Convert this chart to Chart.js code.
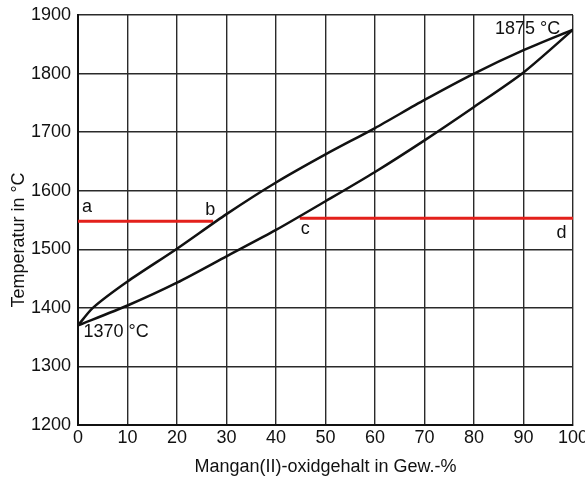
<!DOCTYPE html>
<html>
<head>
<meta charset="utf-8">
<script src="https://cdn.jsdelivr.net/npm/chart.js@4/dist/chart.umd.min.js"></script>
<style>
  html, body { margin: 0; padding: 0; background: #fff; }
  #wrap { width: 585px; height: 479px; }
</style>
</head>
<body>
<div id="wrap"><canvas id="phaseChart" width="585" height="479"></canvas></div>
<script>
// values (MnO content in wt.-%, temperature in °C)
const liqGehalt = [0, 3, 10, 20, 30, 40, 50, 60, 70, 80, 90, 100];
const liqTemp   = [1370, 1400, 1445, 1501, 1560, 1614, 1662, 1707, 1755, 1800, 1840, 1875];

const solGehalt = [0, 10, 20, 30, 40, 50, 60, 70, 80, 90, 100];
const solTemp   = [1370, 1404, 1443, 1488, 1533, 1582, 1632, 1686, 1743, 1802, 1875];

// red isotherm, broken between b and c
const redGehalt = [0, 27.3, null, 44.8, 100];
const redTemp   = [1548, 1548, null, 1553, 1553];

const xTicks = [0, 10, 20, 30, 40, 50, 60, 70, 80, 90, 100];
const yTicks = [1200, 1300, 1400, 1500, 1600, 1700, 1800, 1900];

const toPoints = (xs, ys) => xs.map((x, i) => (x === null ? { x: NaN, y: NaN } : { x: x, y: ys[i] }));

const fontFam = "'Liberation Sans', Arial, sans-serif";
const fontSize = 18;

// labels in the plot (data coordinates)
const notes = [
    { text: "a", x: 1.8, y: 1563, align: "center" },
    { text: "b", x: 26.7, y: 1559, align: "center" },
    { text: "c", x: 45.9, y: 1526, align: "center" },
    { text: "d", x: 97.7, y: 1520, align: "center" },
    { text: "1875 °C", x: 97.4, y: 1868, align: "right" },
    { text: "1370 °C", x: 1.1, y: 1351, align: "left" }
];

const notePlugin = {
    id: "notes",
    afterDatasetsDraw(chart) {
        const ctx = chart.ctx;
        const xs = chart.scales.x;
        const ys = chart.scales.y;
        ctx.save();
        ctx.fillStyle = "#111";
        ctx.font = fontSize + "px " + fontFam;
        ctx.textBaseline = "alphabetic";
        notes.forEach(n => {
            ctx.textAlign = n.align;
            ctx.fillText(n.text, xs.getPixelForValue(n.x), ys.getPixelForValue(n.y));
        });
        // y axis title, sits a bit below the middle of the axis
        ctx.translate(19, 240);
        ctx.rotate(-Math.PI / 2);
        ctx.textAlign = "center";
        ctx.textBaseline = "middle";
        ctx.fillText("Temperatur in °C", 0, 0);
        ctx.restore();
    }
};

const ctx = document.getElementById("phaseChart").getContext("2d");

const chart = new Chart(ctx, {
    type: "scatter",
    data: {
        datasets: [
            {
                label: "Liquidus",
                data: toPoints(liqGehalt, liqTemp),
                showLine: true,
                borderColor: "#111",
                borderWidth: 2.5,
                pointRadius: 0,
                tension: 0.25
            },
            {
                label: "Solidus",
                data: toPoints(solGehalt, solTemp),
                showLine: true,
                borderColor: "#111",
                borderWidth: 2.5,
                pointRadius: 0,
                tension: 0.25
            },
            {
                label: "Isotherme",
                data: toPoints(redGehalt, redTemp),
                showLine: true,
                spanGaps: false,
                borderColor: "#e3201b",
                borderWidth: 3,
                pointRadius: 0
            }
        ]
    },
    options: {
        responsive: false,
        animation: false,
        layout: { padding: { top: 15, right: 12, left: 0, bottom: 0 } },
        plugins: {
            legend: { display: false },
            tooltip: { enabled: false }
        },
        scales: {
            x: {
                type: "linear",
                min: 0,
                max: 100,
                afterBuildTicks: (scale) => { scale.ticks = xTicks.map(v => ({ value: v })); },
                afterFit: (scale) => { scale.height = 54; scale.paddingLeft = 0; scale.paddingRight = 0; },
                grid: { color: "#2a2a2a", lineWidth: 1.4, drawTicks: false },
                border: { color: "#111", width: 2 },
                ticks: { color: "#111", padding: 2, font: { family: fontFam, size: fontSize }, callback: (v) => String(v) },
                title: {
                    display: true,
                    text: "Mangan(II)-oxidgehalt in Gew.-%",
                    color: "#111",
                    padding: { top: 0, bottom: 1 },
                    font: { family: fontFam, size: fontSize }
                }
            },
            y: {
                type: "linear",
                min: 1200,
                max: 1900,
                afterBuildTicks: (scale) => { scale.ticks = yTicks.map(v => ({ value: v })); },
                afterFit: (scale) => { scale.width = 78; scale.paddingTop = 0; scale.paddingBottom = 0; },
                grid: { color: "#2a2a2a", lineWidth: 1.4, drawTicks: false },
                border: { color: "#111", width: 2 },
                ticks: { color: "#111", padding: 7, font: { family: fontFam, size: fontSize }, callback: (v) => String(v) }
            }
        }
    },
    plugins: [notePlugin]
});
</script>
</body>
</html>
